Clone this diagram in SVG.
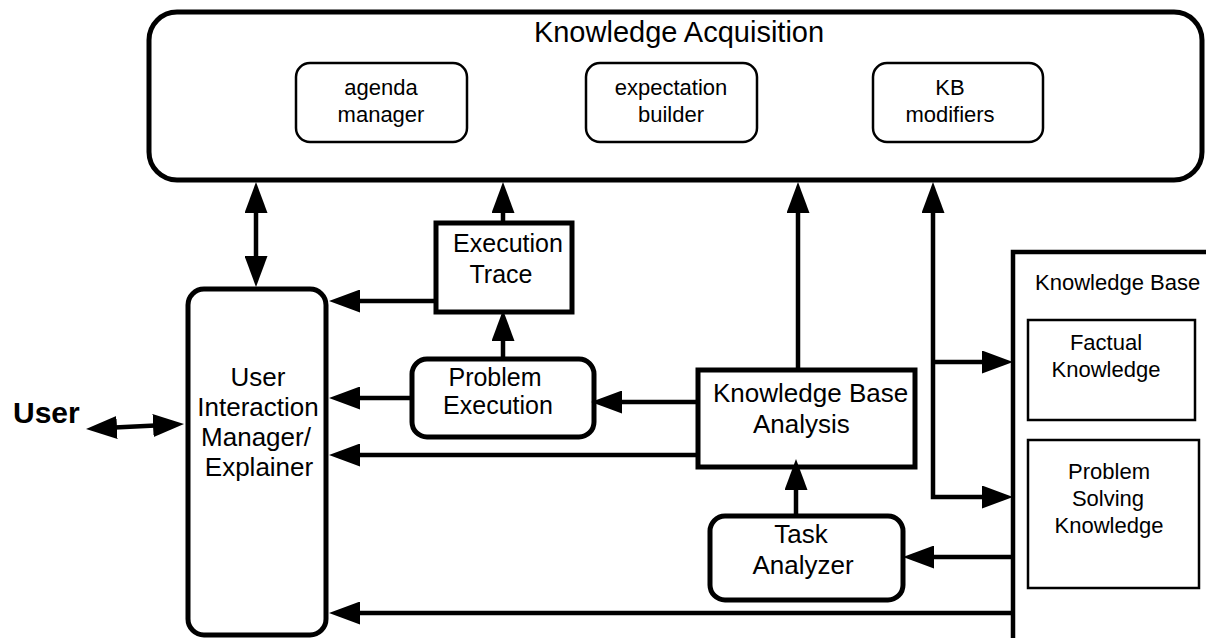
<svg xmlns="http://www.w3.org/2000/svg" width="1206" height="638" viewBox="0 0 1206 638">
<defs>
<style>
text{font-family:"Liberation Sans",Arial,sans-serif;fill:#000}
.c{text-anchor:middle}
.box{fill:#fff;stroke:#000;stroke-width:5}
.inner{fill:#fff;stroke:#000;stroke-width:2.5}
.ln{fill:none;stroke:#000;stroke-width:4.5}
.arr{marker-end:url(#ah)}
.dbl{marker-start:url(#ah);marker-end:url(#ah)}
</style>
<marker id="ah" viewBox="0 0 31 23" refX="23" refY="11.5" markerWidth="31" markerHeight="23" markerUnits="userSpaceOnUse" orient="auto-start-reverse">
<path d="M0,0 L31,11.5 L0,23 z" fill="#000"/>
</marker>
</defs>
<rect width="1206" height="638" fill="#fff"/>

<g id="knowledge-acquisition">
<rect class="box" x="149" y="12" width="1053" height="168" rx="28"/>
<text class="c" x="679" y="42" font-size="29">Knowledge Acquisition</text>
</g>
<g id="agenda-manager">
<rect class="inner" x="296" y="63" width="171" height="79" rx="14"/>
<text class="c" x="381" y="95" font-size="22">agenda</text>
<text class="c" x="381" y="122" font-size="22">manager</text>
</g>
<g id="expectation-builder">
<rect class="inner" x="586" y="63" width="171" height="79" rx="14"/>
<text class="c" x="671" y="95" font-size="22">expectation</text>
<text class="c" x="671" y="122" font-size="22">builder</text>
</g>
<g id="kb-modifiers">
<rect class="inner" x="873" y="63" width="170" height="79" rx="14"/>
<text class="c" x="950" y="95" font-size="22">KB</text>
<text class="c" x="950" y="122" font-size="22">modifiers</text>
</g>

<g id="user">
<text x="13" y="423" font-size="30" font-weight="bold">User</text>
</g>

<g id="user-interaction-manager">
<rect class="box" x="188" y="289" width="138" height="346" rx="16"/>
<text class="c" x="258" y="386" font-size="26">User</text>
<text class="c" x="258" y="416" font-size="26">Interaction</text>
<text class="c" x="256" y="446" font-size="26">Manager/</text>
<text class="c" x="259" y="476" font-size="26">Explainer</text>
</g>

<g id="execution-trace">
<rect class="box" x="436" y="223" width="136" height="89"/>
<text class="c" x="508" y="252" font-size="25">Execution</text>
<text class="c" x="501" y="283" font-size="25">Trace</text>
</g>

<g id="problem-execution">
<rect class="box" x="412" y="359" width="182" height="78" rx="15"/>
<text class="c" x="495" y="386" font-size="25">Problem</text>
<text class="c" x="498" y="414" font-size="25">Execution</text>
</g>

<g id="knowledge-base-analysis">
<rect class="box" x="698" y="370" width="217" height="97"/>
<text x="713" y="402" font-size="26">Knowledge Base</text>
<text x="753" y="433" font-size="26">Analysis</text>
</g>

<g id="task-analyzer">
<rect class="box" x="710" y="516" width="193" height="84" rx="15"/>
<text class="c" x="801" y="543" font-size="26">Task</text>
<text class="c" x="803" y="574" font-size="26">Analyzer</text>
</g>

<g id="knowledge-base">
<path class="ln" d="M1013,640 L1013,252 L1210,252" stroke-width="5"/>
<text x="1035" y="290" font-size="22">Knowledge Base</text>
</g>
<g id="factual-knowledge">
<rect class="inner" x="1028" y="320" width="167" height="100" rx="0"/>
<text class="c" x="1106" y="350" font-size="22">Factual</text>
<text class="c" x="1106" y="377" font-size="22">Knowledge</text>
</g>
<g id="problem-solving-knowledge">
<rect class="inner" x="1028" y="440" width="171" height="148"/>
<text class="c" x="1109" y="479" font-size="22">Problem</text>
<text class="c" x="1108" y="506" font-size="22">Solving</text>
<text class="c" x="1109" y="533" font-size="22">Knowledge</text>
</g>

<g id="connectors">
<path class="ln dbl" d="M94,428.6 L176,424.4"/>
<path class="ln dbl" d="M256,190 L256,279"/>
<path class="ln arr" d="M436,301 L337,301"/>
<path class="ln arr" d="M412,398 L337,398"/>
<path class="ln arr" d="M698,455 L337,455"/>
<path class="ln arr" d="M1013,613 L337,613"/>
<path class="ln arr" d="M503,222 L503,190"/>
<path class="ln arr" d="M503,358 L503,318"/>
<path class="ln arr" d="M698,402 L599,402"/>
<path class="ln arr" d="M798,370 L798,190"/>
<path class="ln arr" d="M796,515 L796,467"/>
<path class="ln arr" d="M1013,557 L911,557"/>
<path class="ln dbl" d="M933,190 L933,497 L1005,497"/>
<path class="ln arr" d="M933,362 L1005,362"/>
</g>
</svg>
